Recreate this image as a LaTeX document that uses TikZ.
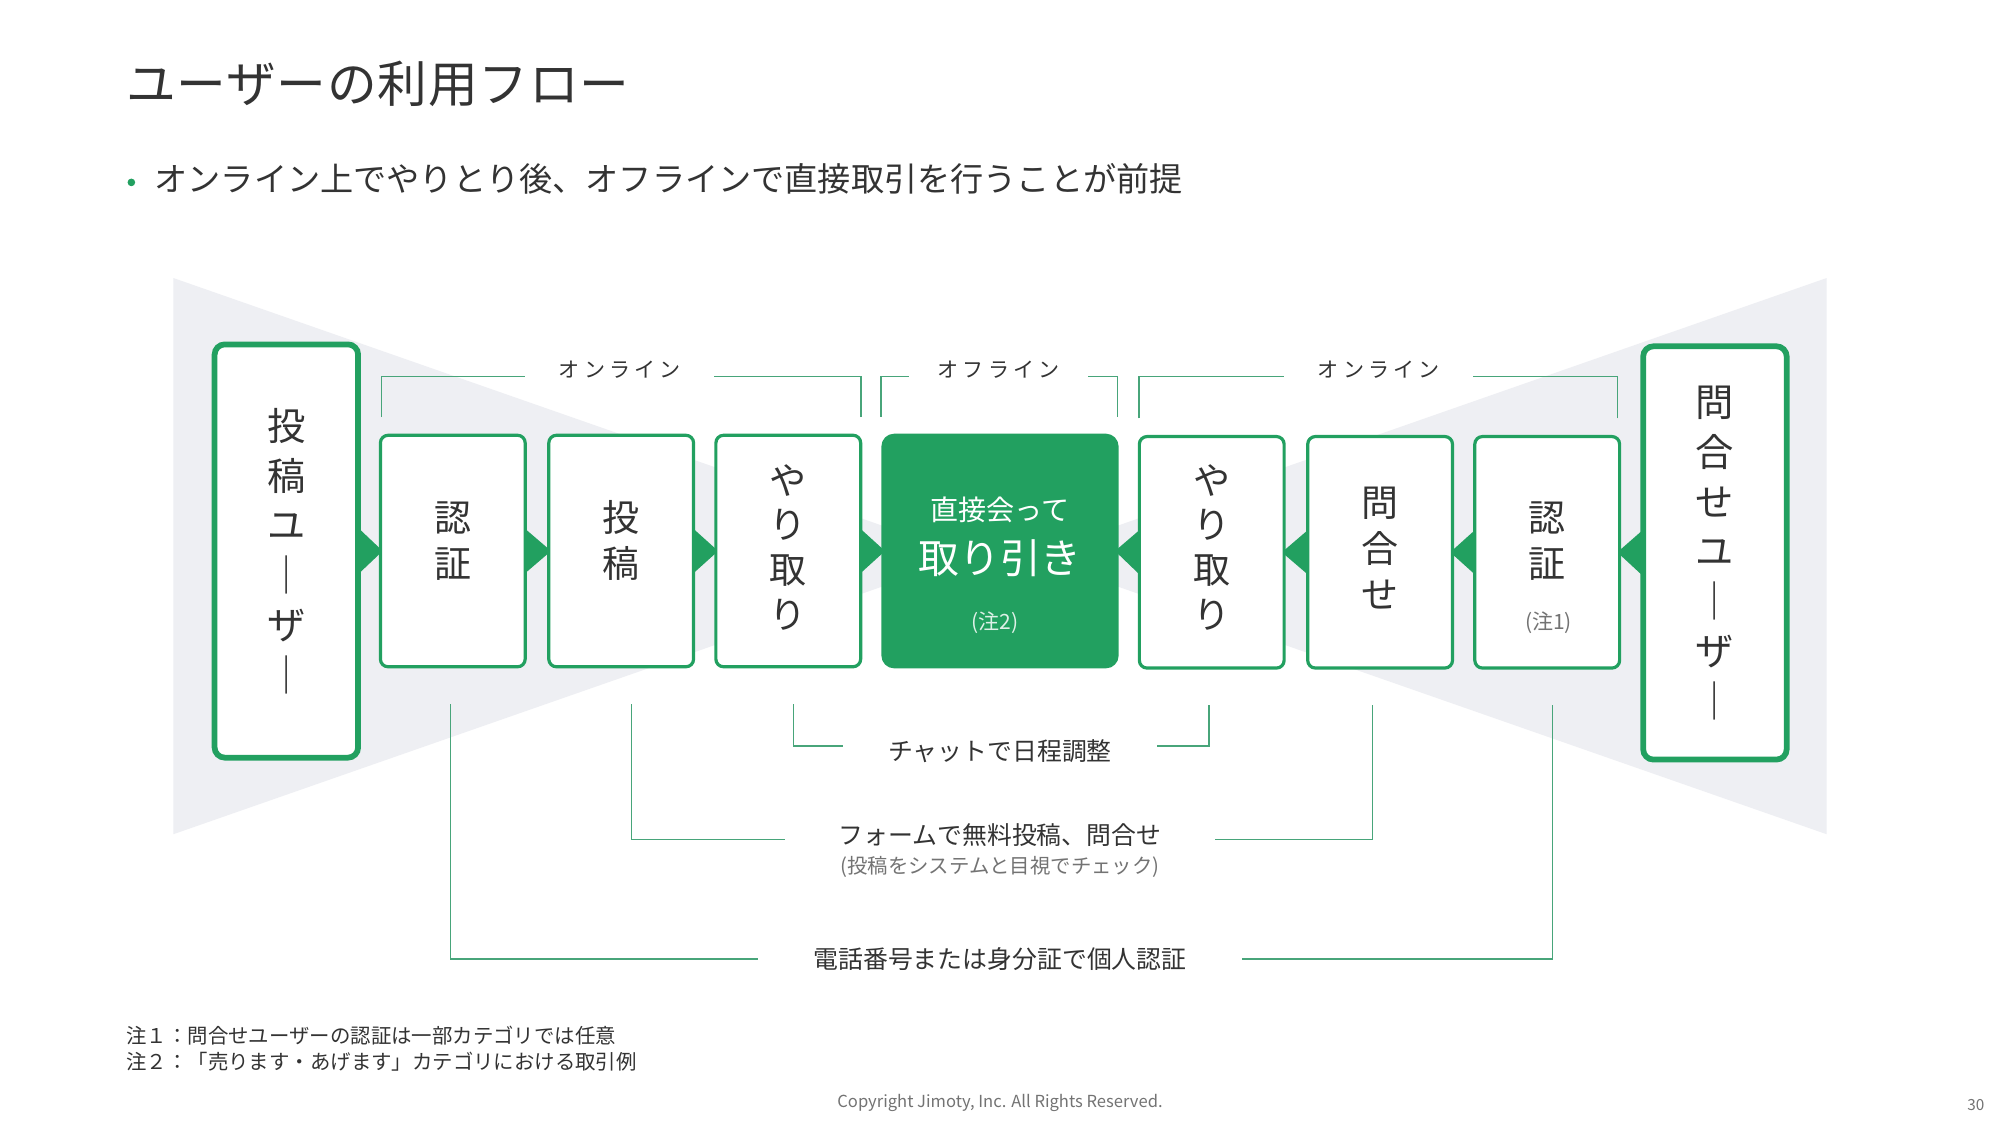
\documentclass[tikz,border=0pt]{standalone}
\usepackage{fontspec}
\setmainfont{Noto Sans CJK JP}
\usetikzlibrary{calc}
\definecolor{jgreen}{RGB}{34,160,96}
\definecolor{lgreen}{RGB}{72,165,122}
\definecolor{jgray}{RGB}{238,239,243}
\definecolor{txt}{RGB}{51,51,51}
\definecolor{subtxt}{RGB}{115,115,115}
\pgfdeclarelayer{back}
\pgfdeclarelayer{mid}
\pgfsetlayers{back,mid,main}
\begin{document}
\begin{tikzpicture}[x=1pt,y=-1pt,
  sbox/.style={draw=jgreen, line width=2.5pt, fill=white, rounded corners=6pt, minimum width=113.5pt, minimum height=181.5pt, inner sep=0pt},
  bbox/.style={draw=jgreen, line width=4.5pt, fill=white, rounded corners=8pt, minimum width=112.5pt, minimum height=324pt, inner sep=0pt},
  cbox/.style={fill=jgreen, rounded corners=10pt, minimum width=186pt, minimum height=184pt, inner sep=0pt},
  vlabel/.style={text=txt, align=center, font=\fontsize{29}{36}\selectfont, inner sep=0pt},
  blabel/.style={text=txt, align=center, font=\fontsize{30}{39}\selectfont, inner sep=0pt},
  bline/.style={draw=lgreen, line width=1.1pt},
  seg/.style={text=txt, font=\fontsize{16.5}{18}\selectfont\addfontfeature{LetterSpace=20}, inner ysep=0pt},
  midtext/.style={text=txt, font=\fontsize{19.5}{22}\selectfont, inner ysep=0pt},
  arr/.style={fill=jgreen}
]
\useasboundingbox (0,0) rectangle (1568,882);

% title and bullet
\node[anchor=west, inner sep=0pt, text=txt, font=\fontsize{39}{42}\selectfont\addfontfeature{LetterSpace=1.5}] (title) at (99,66) {ユーザーの利用フロー};
\fill[jgreen] (103,143) circle (3);
\node[anchor=west, inner sep=0pt, text=txt, font=\fontsize{26}{30}\selectfont] (lead) at (121,140) {オンライン上でやりとり後、オフラインで直接取引を行うことが前提};

% boxes
\node[bbox] (uL) at (224.5,432) {};
\node[sbox] (n1) at (355,432) {};
\node[sbox] (n2) at (487,432) {};
\node[sbox] (n3) at (618,432) {};
\node[cbox] (c) at (784,432) {};
\node[sbox] (n5) at (950,433) {};
\node[sbox] (n6) at (1082,433) {};
\node[sbox] (n7) at (1213,433) {};
\node[bbox] (uR) at (1344.5,433.5) {};

% labels
\node[blabel] (uLt) at (224.5,432) {投\\稿\\ユ\\｜\\ザ\\｜};
\node[vlabel] (n1t) at (355,424) {認\\証};
\node[vlabel] (n2t) at (487,424) {投\\稿};
\node[vlabel, font=\fontsize{29}{35}\selectfont] (n3t) at (618,429) {や\\り\\取\\り};
\node[text=white, inner sep=0pt, font=\fontsize{22}{26}\selectfont] (c1) at (784,400) {直接会って};
\node[text=white, inner sep=0pt, font=\fontsize{32}{36}\selectfont] (c2) at (784,438) {取り引き};
\node[text=white, opacity=0.85, inner sep=0pt, font=\fontsize{16.5}{18}\selectfont] (c3) at (780,488) {(注2)};
\node[vlabel, font=\fontsize{29}{35}\selectfont] (n5t) at (950,429) {や\\り\\取\\り};
\node[vlabel] (n6t) at (1082,430) {問\\合\\せ};
\node[vlabel] (n7t) at (1213,424) {認\\証};
\node[text=subtxt, inner sep=0pt, font=\fontsize{16.5}{18}\selectfont] (n7n) at (1214,488) {(注1)};
\node[blabel] (uRt) at (1344.5,433.5) {問\\合\\せ\\ユ\\｜\\ザ\\｜};

% top segment labels
\node[seg, inner xsep=26pt] (on1) at (486,290) {オンライン};
\node[seg, inner xsep=22pt] (off) at (783,290) {オフライン};
\node[seg, inner xsep=26pt] (on2) at (1081,290) {オンライン};

\draw[bline] ([xshift=2pt,yshift=13pt]n1.north west) |- ([yshift=-5pt]on1.west);
\draw[bline] ([xshift=-1pt,yshift=13pt]n3.north east) |- ([yshift=-5pt]on1.east);
\draw[bline] ([xshift=0pt,yshift=13pt]c.north west) |- ([yshift=-5pt]off.west);
\draw[bline] ([xshift=-1pt,yshift=13pt]c.north east) |- ([yshift=-5pt]off.east);
\draw[bline] ([xshift=1pt,yshift=13pt]n5.north west) |- ([yshift=-5pt]on2.west);
\draw[bline] ([xshift=-3pt,yshift=13pt]n7.north east) |- ([yshift=-5pt]on2.east);

% bottom explanations
\node[midtext, inner xsep=35pt] (chat) at (784,589) {チャットで日程調整};
\node[midtext, inner xsep=42pt] (form) at (784,655) {フォームで無料投稿、問合せ};
\node[text=subtxt, inner sep=0pt, font=\fontsize{16}{18}\selectfont] (formsub) at (784,680) {(投稿をシステムと目視でチェック)};
\node[midtext, inner xsep=43pt] (tel) at (784,752) {電話番号または身分証で個人認証};

\draw[bline] ([xshift=4pt,yshift=-28pt]n3.south) |- ([yshift=4pt]chat.west);
\draw[bline] ([xshift=-2pt,yshift=-28pt]n5.south) |- ([yshift=4pt]chat.east);
\draw[bline] ([xshift=8pt,yshift=-28pt]n2.south) |- ([yshift=-3pt]form.west);
\draw[bline] ([xshift=-6pt,yshift=-28pt]n6.south) |- ([yshift=-3pt]form.east);
\draw[bline] ([xshift=-2pt,yshift=-28pt]n1.south) |- (tel.west);
\draw[bline] ([xshift=4pt,yshift=-28pt]n7.south) |- (tel.east);

% footnotes
\node[anchor=west, inner sep=0pt, text=txt, font=\fontsize{16}{18}\selectfont] (fn1) at (99,812) {注１：問合せユーザーの認証は一部カテゴリでは任意};
\node[anchor=west, inner sep=0pt, text=txt, font=\fontsize{16}{18}\selectfont] (fn2) at (99,832) {注２：「売ります・あげます」カテゴリにおける取引例};
\node[inner sep=0pt, text=subtxt, font=\fontsize{13}{15}\selectfont] (copy) at (784,865) {Copyright Jimoty, Inc. All Rights Reserved.};
\node[inner sep=0pt, text=subtxt, font=\fontsize{12}{14}\selectfont] (page) at (1549,866) {30};

% arrows
\begin{pgfonlayer}{mid}
\fill[arr] ([xshift=-2pt,yshift=18pt]uL.east) -- ([xshift=-2pt,yshift=-18pt]uL.east) -- ([xshift=3pt]n1.west) -- cycle;
\fill[arr] ([xshift=-2pt,yshift=18pt]n1.east) -- ([xshift=-2pt,yshift=-18pt]n1.east) -- ([xshift=3pt]n2.west) -- cycle;
\fill[arr] ([xshift=-2pt,yshift=18pt]n2.east) -- ([xshift=-2pt,yshift=-18pt]n2.east) -- ([xshift=3pt]n3.west) -- cycle;
\fill[arr] ([xshift=-2pt,yshift=18pt]n3.east) -- ([xshift=-2pt,yshift=-18pt]n3.east) -- ([xshift=3pt]c.west) -- cycle;
\fill[arr] ([xshift=2pt,yshift=18pt]n5.west) -- ([xshift=2pt,yshift=-18pt]n5.west) -- ([xshift=-3pt]c.east) -- cycle;
\fill[arr] ([xshift=2pt,yshift=18pt]n6.west) -- ([xshift=2pt,yshift=-18pt]n6.west) -- ([xshift=-3pt]n5.east) -- cycle;
\fill[arr] ([xshift=2pt,yshift=18pt]n7.west) -- ([xshift=2pt,yshift=-18pt]n7.west) -- ([xshift=-3pt]n6.east) -- cycle;
\fill[arr] ([xshift=2pt,yshift=18pt]uR.west) -- ([xshift=2pt,yshift=-18pt]uR.west) -- ([xshift=-3pt]n7.east) -- cycle;
\end{pgfonlayer}

% background and gray funnels
\begin{pgfonlayer}{back}
\fill[white] (0,0) rectangle (1568,882);
\fill[jgray] (136,218) -- (136,654) -- (760,436) -- cycle;
\fill[jgray] (1432,218) -- (1432,654) -- (808,436) -- cycle;
\end{pgfonlayer}
\end{tikzpicture}
\end{document}
